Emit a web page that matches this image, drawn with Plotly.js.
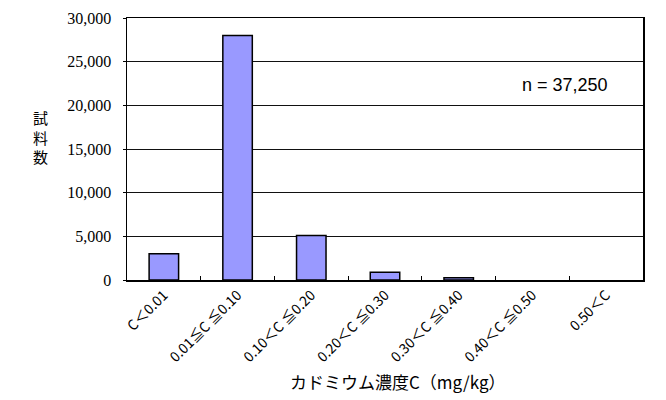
<!DOCTYPE html>
<html><head><meta charset="utf-8">
<script src="https://cdn.plot.ly/plotly-3.0.1.min.js"></script>
<style>html,body{margin:0;padding:0;background:#fff}</style>
</head><body>
<div id="chart" style="width:666px;height:400px"></div>
<script>
const categories = ["C＜0.01", "0.01≦C ≦0.10", "0.10＜C ≦0.20", "0.20＜C ≦0.30", "0.30＜C ≦0.40", "0.40＜C ≦0.50", "0.50＜C"];
const counts = [3000, 28000, 5100, 900, 250, null, null];
const yTicks = [0, 5000, 10000, 15000, 20000, 25000, 30000];
const yTickText = ["0", "5,000", "10,000", "15,000", "20,000", "25,000", "30,000"];
const nLabel = "n = 37,250";
const yTitle = "試<br>料<br>数";
const xTitle = "カドミウム濃度C（mg/kg）";

const trace = {
  type: "bar", x: categories, y: counts, width: 0.4,
  marker: {color: "#9999FF", line: {color: "#000", width: 1.5}},
  hoverinfo: "none"
};
const layout = {
  width: 666, height: 400,
  margin: {l: 127, r: 23, t: 18, b: 120},
  paper_bgcolor: "#fff", plot_bgcolor: "#fff",
  showlegend: false,
  xaxis: {
    type: "category", tickangle: -45, tickson: "boundaries",
    ticks: "inside", ticklen: 4, tickcolor: "#000",
    showline: true, linecolor: "#000", linewidth: 1.5, mirror: true,
    showgrid: false,
    tickfont: {family: "Noto Sans CJK JP", size: 14, color: "#000"}
  },
  yaxis: {
    range: [0, 30000], tickvals: yTicks, ticktext: yTickText,
    ticks: "outside", ticklen: 3, tickcolor: "#000", ticklabelstandoff: 8,
    showline: true, linecolor: "#000", linewidth: 1.5, mirror: true,
    showgrid: true, gridcolor: "#111", gridwidth: 1, zeroline: false,
    tickfont: {family: "Liberation Serif", size: 16, color: "#000"}
  },
  annotations: [
    {text: nLabel, xref: "paper", yref: "paper", x: (565-127)/516, y: (280-85)/262,
     showarrow: false, xanchor: "center", yanchor: "middle",
     font: {family: "Liberation Sans", size: 18, color: "#000"}},
    {text: yTitle, xref: "paper", yref: "paper", x: (40-127)/516, y: (280-137)/262,
     showarrow: false, xanchor: "center", yanchor: "middle",
     font: {family: "Noto Sans CJK JP", size: 15, color: "#000"}},
    {text: xTitle, xref: "paper", yref: "paper", x: (398-127)/516, y: (280-382)/262,
     showarrow: false, xanchor: "center", yanchor: "middle",
     font: {family: "Noto Sans CJK JP", size: 17, color: "#000"}}
  ]
};
Plotly.newPlot("chart", [trace], layout, {displayModeBar: false, staticPlot: true});
</script>
</body></html>
